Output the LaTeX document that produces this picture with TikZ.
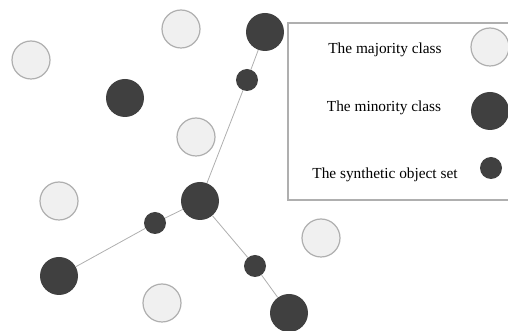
\documentclass[tikz,border=0pt]{standalone}
\usepackage{fontspec}
\setmainfont{Liberation Serif}
\usepackage{color}

\tikzset{
	major/.style={circle, draw=midgray, fill=lightgray2, line width=0.9pt, minimum size=28.5pt, inner sep=0pt},
	minor/.style={circle, fill=darkdot, minimum size=28.5pt, inner sep=0pt},
	synth/.style={circle, fill=darkdot, minimum size=16.5pt, inner sep=0pt},
	link/.style={midgray, line width=0.6pt},
	legtext/.style={font=\fontsize{11.5}{14}\selectfont}
}

\begin{document}
\begin{tikzpicture}[x=0.75pt, y=-0.75pt]
	\definecolor{lightgray2}{RGB}{240, 240, 240}
	\definecolor{midgray}{RGB}{175, 175, 175}
	\definecolor{darkdot}{RGB}{64, 64, 64}
	
	\clip (0,0) rectangle (508,331);
	\useasboundingbox (0,0) rectangle (508,331);
	
	% majority class
	\node[major] (a1) at (31,60) {};
	\node[major] (a2) at (181,29) {};
	\node[major] (a3) at (196,137) {};
	\node[major] (a4) at (59,201) {};
	\node[major] (a5) at (321,238) {};
	\node[major] (a6) at (162,303) {};
	
	% minority class
	\node[minor] (m1) at (265,32) {};
	\node[minor] (m2) at (125,98) {};
	\node[minor] (m3) at (200,201) {};
	\node[minor] (m4) at (59,276) {};
	\node[minor] (m5) at (289,313) {};
	
	% synthetic objects
	\node[synth] (s1) at (247,80) {};
	\node[synth] (s2) at (155,223) {};
	\node[synth] (s3) at (255,266) {};
	
	\draw[link] (m3) -- (s1) -- (m1);
	\draw[link] (m3) -- (s2) -- (m4);
	\draw[link] (m3) -- (s3) -- (m5);
	
	% legend
	\draw[midgray, line width=0.8pt] (288,23) rectangle (520,200);
	\node[legtext] (t1) at (385,50) {The majority class};
	\node[legtext] (t2) at (384,108) {The minority class};
	\node[legtext] (t3) at (385,175) {The synthetic object set};
	\node[major] (k1) at (490,47) {};
	\node[minor] (k2) at (490,111) {};
	\node[synth] (k3) at (491,168) {};
	
\end{tikzpicture}
\end{document}
